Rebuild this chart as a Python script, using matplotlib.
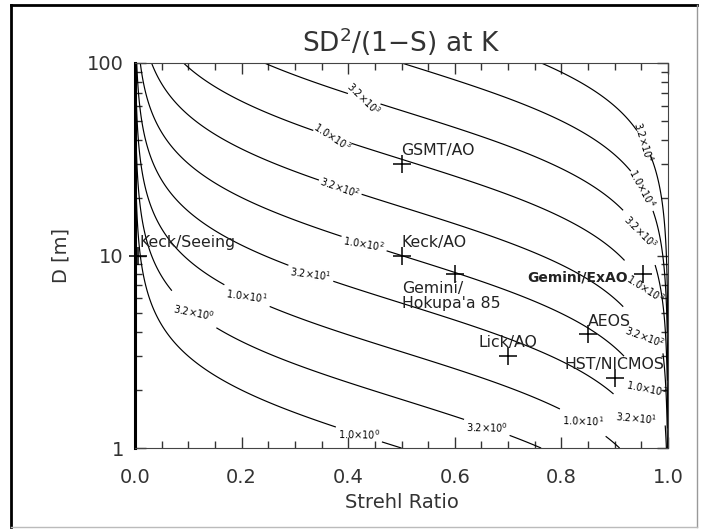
import numpy as np
import matplotlib
matplotlib.use("Agg")
import matplotlib.pyplot as plt
from matplotlib.ticker import MultipleLocator, FixedLocator, NullFormatter
from matplotlib.lines import Line2D

# contour levels of S*D^2/(1-S)
levels = [1.0e0, 3.2e0, 1.0e1, 3.2e1, 1.0e2, 3.2e2, 1.0e3, 3.2e3, 1.0e4, 3.2e4]

# where each contour label sits (strehl, diameter)
label_spots = [
    (0.42, 1.13), (0.11, 4.8), (0.21, 6.1), (0.33, 8.3), (0.43, 11.8),
    (0.385, 22.7), (0.37, 41.3), (0.435, 66.0),
    (0.66, 1.24), (0.84, 1.32), (0.94, 1.4), (0.96, 2.3), (0.957, 3.96),
    (0.957, 6.8), (0.944, 12.8), (0.953, 22.4), (0.951, 38.8),
]

# telescopes: name, strehl, diameter [m]
names = ["Keck/Seeing", "GSMT/AO", "Keck/AO", "Gemini/\nHokupa'a 85",
         "Gemini/ExAO", "AEOS", "Lick/AO", "HST/NICMOS"]
strehl = [0.005, 0.50, 0.50, 0.60, 0.953, 0.85, 0.70, 0.90]
diam = [10.0, 30.0, 10.0, 8.0, 8.0, 3.9, 3.0, 2.3]
# text placement relative to the marker (pixels) and alignment
offsets = [(2, 6), (0, 6), (0, 6), (-53, -7), (-15, -3), (0, 5), (0, 6), (0, 6)]
aligns = [("left", "bottom"), ("left", "bottom"), ("left", "bottom"),
          ("left", "top"), ("right", "center"), ("left", "bottom"),
          ("center", "bottom"), ("center", "bottom")]

s = np.linspace(0.0, 1.0, 2001)[:-1]
d = np.logspace(0, 2, 600)
S, D = np.meshgrid(s, d)
Z = S * D**2 / (1.0 - S)


def fmt(v):
    exp = int(np.floor(np.log10(v) + 1e-9))
    mant = v / 10**exp
    return r"$%.1f{\times}10^{%d}$" % (mant, exp)


fig = plt.figure(figsize=(7.01, 5.29), dpi=100)
ax = fig.add_axes([0.1926, 0.153, 0.7604, 0.728])

cs = ax.contour(S, D, Z, levels=levels, colors="black", linewidths=0.85)
lbls = ax.clabel(cs, levels, manual=label_spots, inline=True,
                 inline_spacing=2, fmt=fmt, fontsize=7)
for t in lbls:
    t.set_fontstyle("italic")

ax.plot(strehl, diam, "+", color="black", ms=13, mew=1.1, clip_on=False)
for nm, x, y, off, (ha, va) in zip(names, strehl, diam, offsets, aligns):
    bold = nm == "Gemini/ExAO"
    ax.annotate(nm, (x, y), xytext=off, textcoords="offset pixels",
                ha=ha, va=va, fontsize=10 if bold else 11.3, color="#222222",
                fontweight="bold" if bold else "normal",
                linespacing=1.0)

ax.set_yscale("log")
ax.set_xlim(0, 1)
ax.set_ylim(1, 100)
ax.xaxis.set_major_locator(MultipleLocator(0.2))
ax.xaxis.set_minor_locator(MultipleLocator(0.05))
ax.yaxis.set_major_locator(FixedLocator([1, 10, 100]))
ax.yaxis.set_major_formatter(matplotlib.ticker.FixedFormatter(["1", "10", "100"]))
ax.yaxis.set_minor_formatter(NullFormatter())
ax.tick_params(which="both", direction="in", top=True, right=True,
               labelsize=14, labelcolor="#333333", color="#333333")
ax.tick_params(axis="x", pad=14)
ax.tick_params(axis="y", pad=8)
ax.tick_params(which="major", length=8, width=1)
ax.tick_params(which="minor", length=5, width=1)
ax.xaxis.set_major_formatter(matplotlib.ticker.FormatStrFormatter("%.1f"))
for sp in ax.spines.values():
    sp.set_color("#444444")
ax.spines["left"].set_linewidth(2.2)
ax.spines["left"].set_color("black")

ax.set_title(r"SD$^2$/(1$-$S) at K", fontsize=19, color="#333333", pad=8)
ax.set_xlabel("Strehl Ratio", fontsize=14, color="#333333", labelpad=5)
ax.set_ylabel("D [m]", fontsize=14, color="#333333", labelpad=12)

# frame around the whole figure
fig.add_artist(Line2D([0.015, 0.015], [0.003, 0.99], transform=fig.transFigure,
                      color="black", lw=2))
fig.add_artist(Line2D([0.015, 0.995], [0.99, 0.99], transform=fig.transFigure,
                      color="black", lw=2))
fig.add_artist(Line2D([0.995, 0.995], [0.003, 0.99], transform=fig.transFigure,
                      color="#999999", lw=1))
fig.add_artist(Line2D([0.015, 0.995], [0.004, 0.004], transform=fig.transFigure,
                      color="#bbbbbb", lw=1))

fig.savefig("out.png", dpi=100)
